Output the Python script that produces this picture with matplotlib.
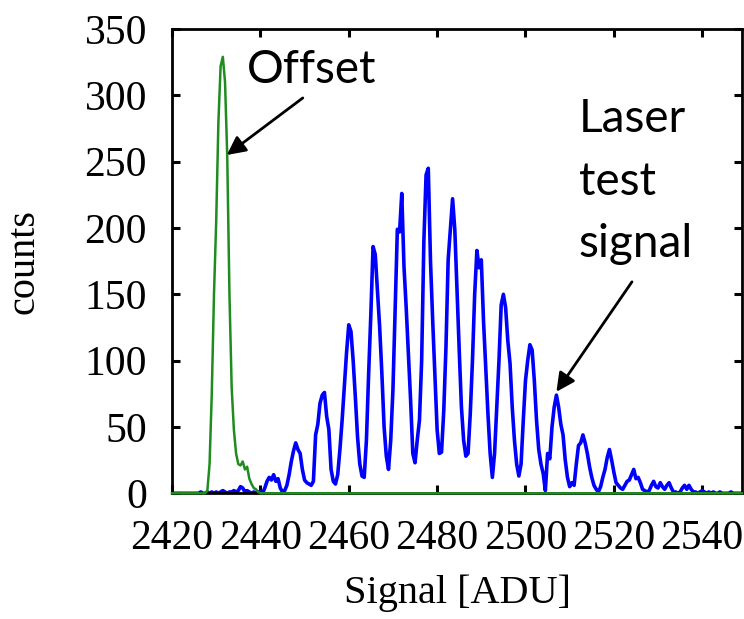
import numpy as np
import matplotlib.pyplot as plt

# histogram bins (ADU), half-ADU steps
adu = np.arange(2420, 2549.25, 0.5)

# laser test signal counts
laser = [
    0, 0, 0, 0, 0, 0, 0, 0, 0, 0,
    0, 0, 0, 1, 0, 0, 1, 0, 1, 0,
    1, 0, 1, 2, 1, 0, 1, 1, 2, 1,
    2, 5, 4, 1, 2, 1, 0, 1, 0, 1,
    1, 0, 4, 9, 12, 10, 14, 9, 11, 4,
    1, 2, 6, 14, 24, 32, 38, 33, 30, 18,
    10, 8, 7, 6, 9, 44, 52, 68, 74, 76,
    58, 48, 18, 9, 7, 14, 33, 55, 80, 106,
    127, 122, 100, 72, 42, 22, 13, 12, 40, 90,
    135, 186, 180, 153, 125, 90, 50, 28, 18, 40,
    78, 140, 199, 197, 226, 171, 140, 105, 70, 30,
    23, 40, 55, 100, 190, 240, 245, 175, 130, 88,
    48, 30, 31, 62, 110, 176, 199, 222, 199, 153,
    108, 65, 40, 28, 30, 60, 100, 150, 183, 170,
    176, 130, 95, 60, 30, 12, 30, 65, 100, 142,
    150, 140, 115, 98, 65, 40, 22, 13, 22, 55,
    85, 100, 112, 108, 85, 55, 33, 22, 15, 2,
    30, 26, 50, 65, 74, 65, 52, 44, 25, 12,
    5, 8, 6, 22, 36, 38, 44, 38, 30, 20,
    12, 6, 3, 1, 5, 12, 18, 27, 33, 25,
    16, 8, 6, 4, 3, 6, 9, 10, 14, 18,
    11, 12, 8, 3, 2, 1, 2, 6, 9, 5,
    4, 8, 5, 3, 6, 8, 4, 1, 1, 0,
    1, 4, 6, 3, 6, 3, 1, 1, 0, 1,
    2, 1, 0, 1, 0, 1, 0, 0, 1, 0,
    0, 0, 0, 1, 0, 0, 0, 0, 0,
]

# offset (pedestal) counts
offset = ([0] * 16
          + [2, 22, 75, 150,
             205, 280, 322, 329, 310, 254, 150, 80, 48, 30,
             22, 21, 24, 18, 20, 11, 7, 4, 3, 1]
          + [0] * 219)

xticks = [2420, 2440, 2460, 2480, 2500, 2520, 2540]
yticks = [0, 50, 100, 150, 200, 250, 300, 350]

serif = 'Liberation Serif'
sans = 'Lato'

fig = plt.figure(figsize=(7.44, 6.19), dpi=100)
ax = fig.add_axes([0.2312, 0.2031, 0.7661, 0.7501])

ax.plot(adu, laser, color='#0000ff', lw=2.6, zorder=2)
ax.plot(adu, offset, color='#1f8c1f', lw=1.8, zorder=3, clip_on=False)

ax.set_xlim(2420, 2549)
ax.set_ylim(0, 350)
ax.set_xticks(xticks)
ax.set_yticks(yticks)

for s in ax.spines.values():
    s.set_linewidth(2.0)
ax.tick_params(direction='in', length=6, width=2.2, top=True, right=True,
               labelsize=30)
ax.tick_params(axis='x', pad=19)
ax.tick_params(axis='y', pad=18)
for lab in ax.get_xticklabels() + ax.get_yticklabels():
    lab.set_family(serif)

ax.set_xlabel('Signal [ADU]', family=serif, fontsize=29, labelpad=12)
ax.set_ylabel('counts', family=serif, fontsize=29, labelpad=30)

# annotations
ax.text(2437, 309.5, 'Offset', family=sans, fontsize=33, va='baseline')
ax.annotate('', xy=(2432.4, 255), xytext=(2449.6, 298),
            arrowprops=dict(arrowstyle='-|>', color='black', lw=2,
                            mutation_scale=28, shrinkA=0, shrinkB=0))

for txt, yb in [('Laser', 272.3), ('test', 225.0), ('signal', 177.9)]:
    ax.text(2512.1, yb, txt, family=sans, fontsize=33, va='baseline')
ax.annotate('', xy=(2507.0, 76.5), xytext=(2524.1, 159.4),
            arrowprops=dict(arrowstyle='-|>', color='black', lw=2,
                            mutation_scale=28, shrinkA=0, shrinkB=0))

fig.savefig('out.png', dpi=100)
